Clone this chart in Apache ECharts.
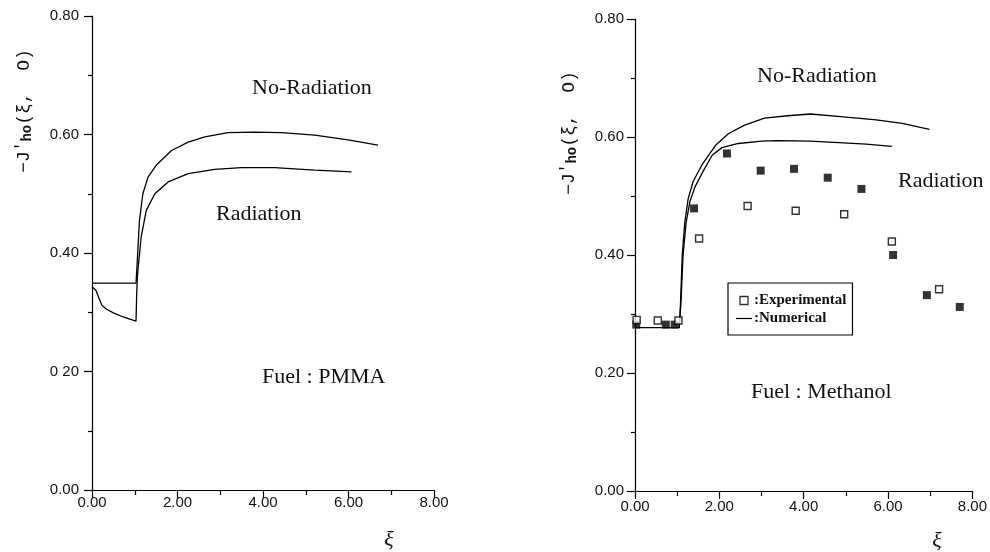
<!DOCTYPE html>
<html>
<head>
<meta charset="utf-8">
<script src="https://cdn.jsdelivr.net/npm/echarts@6/dist/echarts.min.js"></script>
<style>html,body{margin:0;padding:0;background:#fff}#c{width:990px;height:552px}</style>
</head>
<body>
<div id="c"></div>
<script>
// ---- data (xi, -J'ho) ----
const xTicks = [0, 2, 4, 6, 8];
const yTicksLeft = ['0.00', '0 20', '0.40', '0.60', '0.80'];
const yTicksRight = ['0.00', '0.20', '0.40', '0.60', '0.80'];

const pmmaNoRad = [[0,0.349],[1.03,0.349],[1.06,0.388],[1.11,0.455],[1.19,0.500],[1.31,0.528],[1.50,0.548],[1.86,0.573],[2.25,0.587],[2.64,0.596],[3.18,0.603],[3.80,0.604],[4.43,0.603],[5.21,0.599],[5.99,0.591],[6.69,0.582]];
const pmmaRad = [[0,0.343],[0.09,0.337],[0.15,0.326],[0.23,0.312],[0.34,0.305],[0.50,0.299],[0.73,0.292],[1.03,0.285],[1.045,0.330],[1.06,0.358],[1.08,0.375],[1.15,0.427],[1.27,0.472],[1.47,0.500],[1.78,0.520],[2.25,0.534],[2.87,0.541],[3.49,0.544],[4.27,0.544],[5.21,0.540],[6.07,0.537]];

const methNoRad = [[0,0.277],[1.05,0.277],[1.08,0.320],[1.12,0.400],[1.18,0.455],[1.26,0.495],[1.38,0.525],[1.59,0.553],[1.91,0.586],[2.22,0.606],[2.60,0.620],[3.07,0.632],[3.62,0.636],[4.16,0.639],[4.94,0.634],[5.72,0.629],[6.34,0.623],[6.98,0.613]];
const methRad = [[1.05,0.277],[1.09,0.320],[1.14,0.400],[1.21,0.454],[1.30,0.490],[1.42,0.515],[1.60,0.540],[1.83,0.569],[2.06,0.582],[2.45,0.589],[3.00,0.593],[3.38,0.594],[4.16,0.593],[4.94,0.590],[5.48,0.588],[6.09,0.584]];
const methExpFilled = [[0.03,0.282],[0.73,0.282],[0.94,0.282],[1.40,0.479],[2.18,0.572],[2.98,0.543],[3.77,0.546],[4.57,0.531],[5.37,0.512],[6.12,0.400],[6.92,0.332],[7.70,0.312]];
const methExpOpen = [[0.04,0.290],[0.54,0.289],[1.03,0.289],[1.52,0.428],[2.67,0.483],[3.81,0.475],[4.96,0.469],[6.09,0.423],[7.21,0.342]];

const chart = echarts.init(document.getElementById('c'), null, {renderer: 'canvas'});
const tickFont = {color: '#111', fontFamily: 'Liberation Sans', fontSize: 15};
const axLine = {lineStyle: {color: '#000', width: 1.2}};

function xAxisCfg(grid, margin) {
  return {
    type: 'value', gridIndex: grid, min: 0, max: 8, interval: 2,
    axisLine: axLine,
    axisTick: {show: true, length: 8, inside: false, lineStyle: {color: '#000', width: 1.2}},
    minorTick: {show: true, splitNumber: 2, length: 5, lineStyle: {color: '#000', width: 1.2}},
    splitLine: {show: false},
    axisLabel: Object.assign({margin: margin, formatter: v => xTicks.indexOf(v) >= 0 ? v.toFixed(2) : ''}, tickFont)
  };
}
function yAxisCfg(grid, labels, margin) {
  return {
    type: 'value', gridIndex: grid, min: 0, max: 0.8, interval: 0.2,
    axisLine: axLine,
    axisTick: {show: true, length: 8, inside: false, lineStyle: {color: '#000', width: 1.2}},
    minorTick: {show: true, splitNumber: 2, length: 4, lineStyle: {color: '#000', width: 1.2}},
    splitLine: {show: false},
    axisLabel: Object.assign({margin: margin, formatter: v => labels[Math.round(v / 0.2)]}, tickFont)
  };
}
const lineStyle = {color: '#000', width: 1.3};
function lineSeries(name, data, idx) {
  return {type: 'line', name: name, xAxisIndex: idx, yAxisIndex: idx, data: data,
    symbol: 'none', smooth: false, lineStyle: lineStyle, itemStyle: {color: '#000'}, silent: true, animation: false};
}
const serif = 'Liberation Serif';
function label(text, x, y) {
  return {type: 'text', x: x, y: y, style: {text: text, fontFamily: serif, fontSize: 22, fill: '#111', align: 'left', verticalAlign: 'middle'}};
}
function yName(x, y) {
  return {type: 'text', x: x, y: y, rotation: Math.PI / 2,
    style: {text: '{a|−J}{p|′}{s|ho}{a|(ξ,  O)}', align: 'center', verticalAlign: 'middle', fill: '#111',
      rich: {a: {fontFamily: 'Liberation Mono', fontSize: 18, fill: '#111'},
             p: {fontFamily: 'Liberation Mono', fontSize: 16, fill: '#111', verticalAlign: 'top'},
             s: {fontFamily: 'Liberation Mono', fontSize: 14, fill: '#111', fontWeight: 'bold', padding: [6, 0, 0, 0]}}}};
}
function xiName(x, y) {
  return {type: 'text', x: x, y: y, style: {text: 'ξ', fontFamily: serif, fontStyle: 'italic', fontSize: 22, fill: '#111', align: 'center', verticalAlign: 'middle'}};
}

chart.setOption({
  animation: false,
  backgroundColor: '#fff',
  grid: [
    {left: 92, right: 556, top: 16, bottom: 62, containLabel: false},
    {left: 635, right: 12, top: 19, bottom: 61, containLabel: false}
  ],
  xAxis: [xAxisCfg(0, 5), xAxisCfg(1, 8)],
  yAxis: [yAxisCfg(0, yTicksLeft, 13), yAxisCfg(1, yTicksRight, 11)],
  legend: {
    left: 728, top: 283, orient: 'vertical',
    data: [
      {name: 'Experimental', icon: 'path://M0,0L8,0L8,8L0,8Z', itemStyle: {color: '#fff', borderColor: '#000', borderWidth: 1.3}},
      {name: 'Numerical', icon: 'path://M0,0L16,0L16,1.2L0,1.2Z', itemStyle: {color: '#000', borderWidth: 0}}
    ],
    symbolKeepAspect: true,
    formatter: n => ':' + n,
    itemWidth: 16, itemHeight: 8, itemGap: 3,
    padding: [10, 6, 9, 8],
    borderColor: '#000', borderWidth: 1.2, backgroundColor: '#fff',
    selectedMode: false,
    textStyle: {fontFamily: serif, fontWeight: 'bold', fontSize: 15, color: '#111', padding: [0, 0, 0, -3], lineHeight: 14}
  },
  series: [
    lineSeries('PMMA No-Radiation', pmmaNoRad, 0),
    lineSeries('PMMA Radiation', pmmaRad, 0),
    lineSeries('Numerical', methNoRad, 1),
    lineSeries('Numerical', methRad, 1),
    {type: 'scatter', name: 'Experimental (filled)', xAxisIndex: 1, yAxisIndex: 1, data: methExpFilled,
      symbol: 'rect', symbolSize: 8, itemStyle: {color: '#000'}, silent: true},
    {type: 'scatter', name: 'Experimental', xAxisIndex: 1, yAxisIndex: 1, data: methExpOpen,
      symbol: 'rect', symbolSize: 7, itemStyle: {color: '#fff', borderColor: '#000', borderWidth: 1.4}, silent: true, z: 3}
  ],
  graphic: [
    label('No-Radiation', 252, 88),
    label('Radiation', 216, 214),
    label('Fuel : PMMA', 262, 377),
    label('No-Radiation', 757, 76),
    label('Radiation', 898, 181),
    label('Fuel : Methanol', 751, 392),
    yName(24, 111),
    yName(569, 133),
    xiName(389, 540),
    xiName(937, 541)
  ]
});
</script>
</body>
</html>
